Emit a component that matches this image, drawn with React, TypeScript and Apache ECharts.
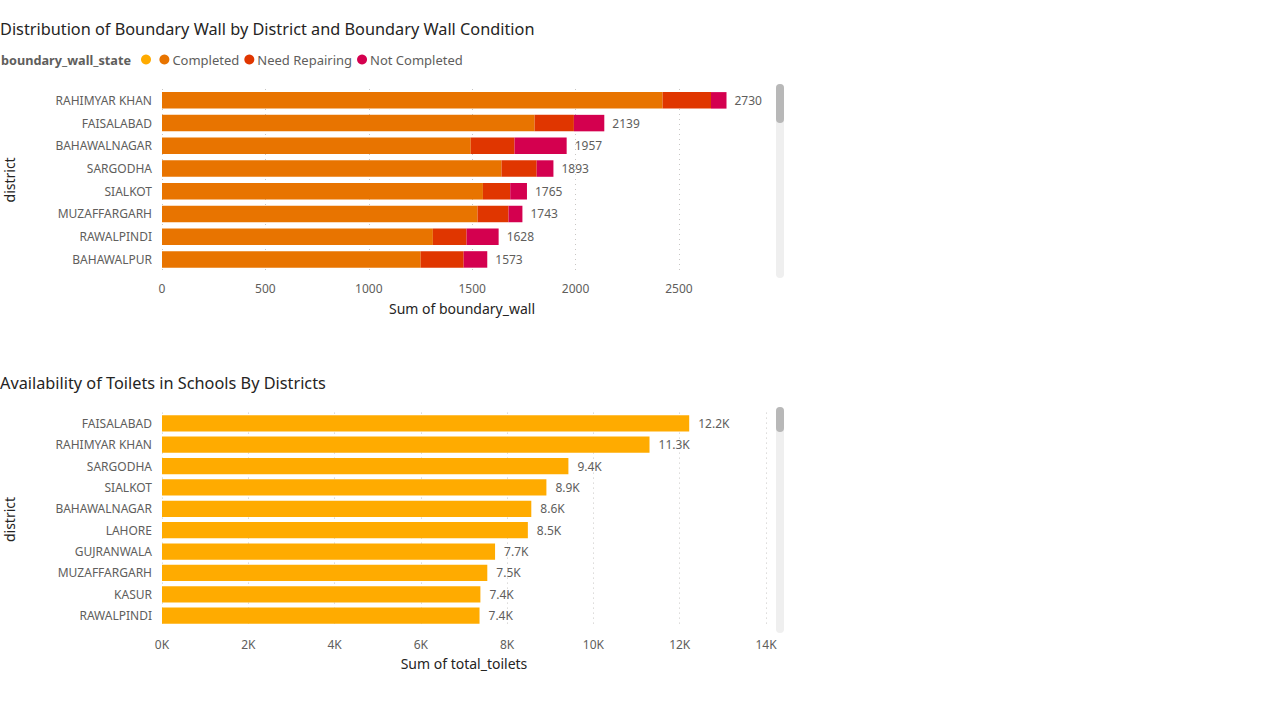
import React, { useEffect, useRef } from "react";
import * as echarts from "echarts";

const wallDistricts = ["RAHIMYAR KHAN", "FAISALABAD", "BAHAWALNAGAR", "SARGODHA", "SIALKOT", "MUZAFFARGARH", "RAWALPINDI", "BAHAWALPUR"];
const wallCompleted = [2421, 1802, 1493, 1642, 1552, 1526, 1310, 1251];
const wallNeedRepairing = [234, 190, 212, 170, 132, 150, 163, 208];
const wallNotCompleted = [75, 147, 252, 81, 81, 67, 155, 114];
const wallTicks = [0, 500, 1000, 1500, 2000, 2500];

const toiletDistricts = ["FAISALABAD", "RAHIMYAR KHAN", "SARGODHA", "SIALKOT", "BAHAWALNAGAR", "LAHORE", "GUJRANWALA", "MUZAFFARGARH", "KASUR", "RAWALPINDI"];
const toiletTotals = [12220, 11300, 9420, 8910, 8560, 8480, 7720, 7540, 7380, 7360];

const COLORS = { blank: "#FFAB00", completed: "#E87400", need: "#E03600", not: "#D4004F", toilets: "#FFAB00" };
const LABEL_FONT = "'Segoe UI', 'Noto Sans', sans-serif";
const TITLE_FONT = "'DIN', 'Noto Sans', sans-serif";
const GREY = "#605E5C";
const DARK = "#252423";

export default function App() {
  const ref = useRef<HTMLDivElement>(null);
  useEffect(() => {
    if (!ref.current) return;
    const chart = echarts.init(ref.current, null, { renderer: "svg" });
    const totals = wallDistricts.map((_, i) => wallCompleted[i] + wallNeedRepairing[i] + wallNotCompleted[i]);
    const axisLabel = { color: GREY, fontSize: 12, fontFamily: LABEL_FONT };
    const splitLine = { show: true, showMaxLine: false, lineStyle: { color: "#C8C6C4", type: [1, 4] as any, width: 1 } };
    chart.setOption({
      animation: false,
      title: [
        { text: "Distribution of Boundary Wall by District and Boundary Wall Condition", left: 0, top: 21, padding: 0, textStyle: { fontFamily: TITLE_FONT, fontSize: 16.3, fontWeight: "normal", color: DARK } },
        { text: "Availability of Toilets in Schools By Districts", left: 0, top: 375, padding: 0, textStyle: { fontFamily: TITLE_FONT, fontSize: 16.3, fontWeight: "normal", color: DARK } },
      ],
      legend: {
        left: 141, top: 53, padding: 0, itemGap: 5, itemWidth: 10, itemHeight: 10, icon: "circle",
        data: [{ name: " ", textStyle: { padding: [0, 0, 0, -5] } }, "Completed", "Need Repairing", "Not Completed"],
        textStyle: { color: GREY, fontSize: 13, fontFamily: LABEL_FONT, padding: [0, 0, 0, -2] },
      },
      graphic: [
        { type: "text", left: 1, top: 53, style: { text: "boundary_wall_state", fill: GREY, font: `bold 12.7px ${LABEL_FONT}` } },
        { type: "rect", shape: { x: 776, y: 84, width: 8, height: 194, r: 4 }, style: { fill: "#EFEFEF" }, z: 100 },
        { type: "rect", shape: { x: 776, y: 84, width: 8, height: 39, r: 4 }, style: { fill: "#B8B8B8" }, z: 101 },
        { type: "rect", shape: { x: 776, y: 407, width: 8, height: 226, r: 4 }, style: { fill: "#EFEFEF" }, z: 100 },
        { type: "rect", shape: { x: 776, y: 407, width: 8, height: 25, r: 4 }, style: { fill: "#B8B8B8" }, z: 101 },
      ],
      grid: [
        { left: 162, top: 89, width: 610, height: 181.8 },
        { left: 162, top: 412.6, width: 604, height: 213.8 },
      ],
      xAxis: [
        {
          gridIndex: 0, type: "value", min: wallTicks[0], max: 2950, interval: 500,
          axisLine: { show: false }, axisTick: { show: false },
          axisLabel: { ...axisLabel, margin: 12, showMaxLabel: false, formatter: (v: number) => String(v) },
          splitLine,
          name: "Sum of boundary_wall", nameLocation: "middle", nameGap: 31,
          nameTextStyle: { color: DARK, fontSize: 14, fontFamily: LABEL_FONT, padding: [0, 10, 0, 0] },
        },
        {
          gridIndex: 1, type: "value", min: 0, max: 14000, interval: 2000,
          axisLine: { show: false }, axisTick: { show: false },
          axisLabel: { ...axisLabel, margin: 12, formatter: (v: number) => `${v / 1000}K` },
          splitLine: { ...splitLine, showMaxLine: true },
          name: "Sum of total_toilets", nameLocation: "middle", nameGap: 30,
          nameTextStyle: { color: DARK, fontSize: 14, fontFamily: LABEL_FONT },
        },
      ],
      yAxis: [
        {
          gridIndex: 0, type: "category", data: wallDistricts, inverse: true,
          axisLine: { show: false }, axisTick: { show: false },
          axisLabel: { ...axisLabel, margin: 10 },
          name: "district", nameLocation: "middle", nameGap: 146, nameRotate: 90,
          nameTextStyle: { color: DARK, fontSize: 14, fontFamily: LABEL_FONT },
        },
        {
          gridIndex: 1, type: "category", data: toiletDistricts, inverse: true,
          axisLine: { show: false }, axisTick: { show: false },
          axisLabel: { ...axisLabel, margin: 10 },
          name: "district", nameLocation: "middle", nameGap: 146, nameRotate: 90,
          nameTextStyle: { color: DARK, fontSize: 14, fontFamily: LABEL_FONT },
        },
      ],
      series: [
        { name: " ", type: "bar", stack: "w", xAxisIndex: 0, yAxisIndex: 0, data: [], itemStyle: { color: COLORS.blank } },
        { name: "Completed", type: "bar", stack: "w", xAxisIndex: 0, yAxisIndex: 0, barWidth: 16.5, data: wallCompleted, itemStyle: { color: COLORS.completed } },
        { name: "Need Repairing", type: "bar", stack: "w", xAxisIndex: 0, yAxisIndex: 0, barWidth: 16.5, data: wallNeedRepairing, itemStyle: { color: COLORS.need } },
        {
          name: "Not Completed", type: "bar", stack: "w", xAxisIndex: 0, yAxisIndex: 0, barWidth: 16.5, data: wallNotCompleted, itemStyle: { color: COLORS.not },
          label: { show: true, position: "right", distance: 8, color: GREY, fontSize: 12, fontFamily: LABEL_FONT, formatter: (p: any) => String(totals[p.dataIndex]) },
        },
        {
          name: "Toilets", type: "bar", xAxisIndex: 1, yAxisIndex: 1, barWidth: 16.3, data: toiletTotals, itemStyle: { color: COLORS.toilets },
          label: { show: true, position: "right", distance: 9, color: GREY, fontSize: 12, fontFamily: LABEL_FONT, formatter: (p: any) => `${(Math.round(p.value / 100) / 10).toFixed(1)}K` },
        },
      ],
    });
    return () => chart.dispose();
  }, []);
  return <div ref={ref} style={{ position: "fixed", left: 0, top: 0, width: 1285, height: 706, background: "#fff" }} />;
}
